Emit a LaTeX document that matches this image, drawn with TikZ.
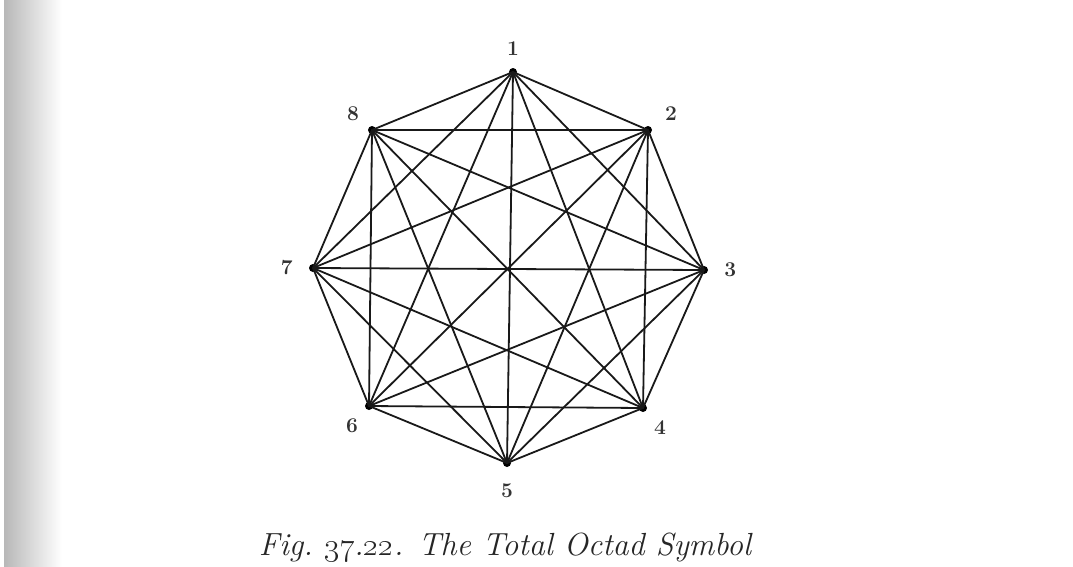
\documentclass[tikz,border=0pt]{standalone}
\usepackage{fix-cm}
\usetikzlibrary{positioning}
\begin{document}
\begin{tikzpicture}[x=1pt, y=-1pt,
		edge/.style={line width=1.8pt, black!90, line cap=round},
		vdot/.style={circle, fill=black, inner sep=0pt, minimum size=8pt},
		lbl/.style={font=\fontsize{21}{23}\selectfont\bfseries, text=black!80, inner sep=1pt}]
		\useasboundingbox (0,0) rectangle (1073,566);
		\fill[white] (0,0) rectangle (1073,566);
		\shade[left color=black!28, right color=white] (4,0) rectangle (62,566);
		% vertices of the octad
		\foreach \n/\x/\y in {1/513/72, 2/648/130, 3/704/270, 4/643/408,
				5/507/463, 6/369/406, 7/313/268, 8/372/130} {
				\node[vdot] (v\n) at (\x,\y) {};
			}
		% every pair joined
		\foreach \i [evaluate=\i as \k using int(\i+1)] in {1,...,7} {
				\foreach \j in {\k,...,8} {
						\draw[edge] (v\i.center) -- (v\j.center);
					}
			}
		\node[lbl, above=11pt of v1] (l1) {1};
		\node[lbl, above right=5pt and 13pt of v2] (l2) {2};
		\node[lbl, right=15pt of v3] (l3) {3};
		\node[lbl, below right=9pt and 7pt of v4] (l4) {4};
		\node[lbl, below=15pt of v5] (l5) {5};
		\node[lbl, below left=9pt and 7pt of v6] (l6) {6};
		\node[lbl, left=15pt of v7] (l7) {7};
		\node[lbl, above left=5pt and 9pt of v8] (l8) {8};
		\node[font=\fontsize{32}{34}\selectfont\itshape, text=black!85] (cap) at (505,547)
			{Fig.~\oldstylenums{37}.\oldstylenums{22}. The Total Octad Symbol};
	\end{tikzpicture}
\end{document}
